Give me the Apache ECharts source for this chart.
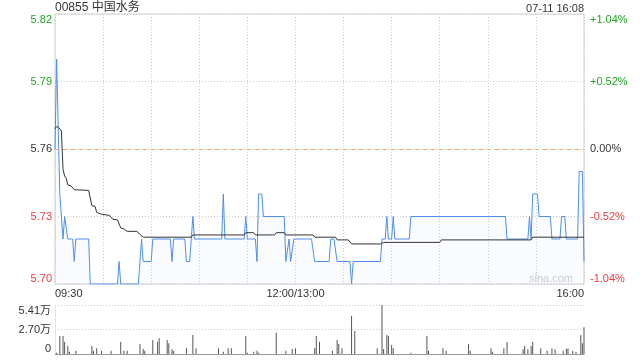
<!DOCTYPE html>
<html><head><meta charset="utf-8">
<script src="https://cdn.jsdelivr.net/npm/echarts@6/dist/echarts.min.js"></script>
<style>html,body{margin:0;padding:0;background:#fff}#c{width:640px;height:360px}</style>
</head><body><div id="c"></div>
<script>
const stockTitle = '00855 中国水务';
const stampText = '07-11 16:08';
const watermark = 'sina.com';
const prevClose = 5.76;
const priceMin = 5.70, priceMax = 5.82, priceStep = 0.03;
const timeLabelMinutes = [0, 150, 330];
const timeLabels = ['09:30', '12:00/13:00', '16:00'];

// price (minute index from 09:30, lunch removed)
const priceMinutes = [0,1,2,3,4,5,6,7,8, 11,12,13, 21,22, 39,40,41, 52,54,55, 60,61, 72,73,74, 81,82,84, 86,87,
  104,105,106, 118,119,120, 125,126,127, 129,130, 143,144, 146,147,149, 160,162, 171,172,174,176, 184,185,186,
  203,204,206,207,208, 210,211,212, 221,222, 281,282, 295,296,297,298, 301,302, 309,310, 315,316,318,319, 326,327,329,330];
const priceValues = [5.76,5.80,5.80,5.74,5.74,5.72,5.73,5.73,5.72, 5.72,5.71,5.72, 5.72,5.70, 5.70,5.71,5.70, 5.70,5.72,5.71, 5.71,5.72, 5.72,5.71,5.72, 5.72,5.71,5.71, 5.73,5.72,
  5.72,5.74,5.72, 5.72,5.73,5.72, 5.72,5.71,5.74, 5.74,5.73, 5.73,5.71, 5.72,5.71,5.72, 5.72,5.71, 5.71,5.72,5.72,5.71, 5.71,5.70,5.71,
  5.71,5.72,5.72,5.73,5.72, 5.72,5.73,5.72, 5.72,5.73, 5.73,5.72, 5.72,5.73,5.72,5.74, 5.74,5.73, 5.73,5.72, 5.72,5.73,5.73,5.72, 5.72,5.75,5.75,5.71];

const avgMinutes = [0,1,2,3,4,5,6,7,8, 10,12, 21,23,25,26,29, 34,36,39,41,43,45, 51,55, 85,86, 118,119,124,125,
  137,138,143,144, 161,162,175,176, 183,185, 203,205, 240,241, 297,298,330];
const avgValues = [5.769,5.77,5.77,5.769,5.768,5.751,5.748,5.747,5.744, 5.7436,5.7419, 5.7416,5.7348,5.7345,5.7318,5.731,
  5.7305,5.7288,5.7285,5.7249,5.7245,5.7234, 5.7234,5.7208, 5.7208,5.7218, 5.7218,5.7228,5.7228,5.7218,
  5.7218,5.7228,5.7228,5.7218, 5.7218,5.7208,5.7208,5.7196, 5.7196,5.7178, 5.7178,5.7185, 5.7185,5.7196, 5.7196,5.7208,5.7208];

const volMinutes = [1,3,5,6,8,9,13,23,24,26,29,35,41,43,45,53,55,56,61,64,65,70,71,73,74,82,86,88,102,105,108,110,
  119,120,124,126,127,138,144,148,150,162,163,165,173,176,177,179,185,187,201,204,205,207,208,210,211,222,232,233,
  242,244,258,259,272,273,280,282,292,293,295,297,298,303,307,310,312,317,319,320,323,325,328,329,330];
const volValues = [1400,19900,19900,13600,8800,2500,3600,8800,3600,6300,3600,3600,13600,3600,3600,11000,5500,3600,15500,13600,17300,15500,11800,5200,3300,6300,21000,6300,6300,2500,6300,6300,
  19900,1400,2500,3600,1400,23500,3600,5500,6300,6300,19900,13600,3600,15500,11000,6300,42000,25400,6300,54100,5500,21000,19900,9900,6300,1400,19900,3600,
  6300,3600,11000,3600,6300,2500,6300,13200,5200,8800,5200,8800,13600,6300,3600,6300,5200,3600,5500,6300,3600,2500,21000,11800,29500];
const volMax = 54100;
const volTickLabels = ['0', '2.70万', '5.41万'];

const FONT = '"Liberation Sans", Arial, "Noto Sans CJK SC", sans-serif';
const GREEN = '#22a722', RED = '#f03a3a', DARK = '#333';
const GRID_C = '#cfcfcf';

function colorKey(v){ return v > prevClose + 1e-6 ? 'up' : (v < prevClose - 1e-6 ? 'dn' : 'eq'); }
const rich = {
  up: {color: GREEN, fontSize: 11, fontFamily: FONT},
  dn: {color: RED, fontSize: 11, fontFamily: FONT},
  eq: {color: DARK, fontSize: 11, fontFamily: FONT}
};

const chart = echarts.init(document.getElementById('c'), null, {renderer: 'canvas'});
chart.setOption({
  animation: false,
  backgroundColor: '#fff',
  textStyle: {fontFamily: FONT},
  graphic: [
    {type: 'text', left: 55, top: 2, style: {text: stockTitle, font: '12px ' + FONT, fill: '#333'}},
    {type: 'text', right: 56, top: 3, style: {text: stampText, font: '11px ' + FONT, fill: '#333'}},
    {type: 'text', right: 67, top: 273, style: {text: watermark, font: '11px ' + FONT, fill: '#cfcfcf'}}
  ],
  grid: [
    {left: 55, right: 56, top: 14, height: 270, show: true, borderColor: GRID_C, borderWidth: 1, outerBoundsMode: 'none'},
    {left: 55, right: 56, top: 305, height: 49, show: false, outerBoundsMode: 'none'}
  ],
  xAxis: [
    {type: 'value', gridIndex: 0, min: 0, max: 330, interval: 30,
     axisLine: {show: false}, axisTick: {show: false},
     splitLine: {show: true, lineStyle: {color: GRID_C, type: [1, 2]}},
     axisLabel: {show: true, margin: 4, fontSize: 11, color: DARK, fontFamily: FONT,
       alignMinLabel: 'left', alignMaxLabel: 'right', showMinLabel: true, showMaxLabel: true,
       formatter: v => { const i = timeLabelMinutes.indexOf(Math.round(v)); return i >= 0 ? timeLabels[i] : ''; }}},
    {type: 'value', gridIndex: 1, min: 0, max: 330,
     axisLine: {show: true, lineStyle: {color: '#999'}}, axisTick: {show: false},
     splitLine: {show: false}, axisLabel: {show: false}}
  ],
  yAxis: [
    {type: 'value', gridIndex: 0, min: priceMin, max: priceMax, interval: priceStep, position: 'left',
     axisLine: {show: false}, axisTick: {show: false},
     splitLine: {show: true, lineStyle: {color: GRID_C, type: [1, 2]}},
     axisLabel: {margin: 3, fontSize: 11, fontFamily: FONT, rich: rich,
       verticalAlignMinLabel: 'bottom', verticalAlignMaxLabel: 'top',
       formatter: v => '{' + colorKey(v) + '|' + v.toFixed(2) + '}'}},
    {type: 'value', gridIndex: 0, min: priceMin, max: priceMax, interval: priceStep, position: 'right',
     axisLine: {show: false}, axisTick: {show: false}, splitLine: {show: false},
     axisLabel: {margin: 6, fontSize: 11, fontFamily: FONT, rich: rich,
       verticalAlignMinLabel: 'bottom', verticalAlignMaxLabel: 'top',
       formatter: v => { const p = (v - prevClose) / prevClose * 100; const k = colorKey(v);
         const s = (Math.abs(p) < 1e-6 ? '0.00' : (p > 0 ? '+' : '') + p.toFixed(2)) + '%';
         return '{' + k + '|' + s + '}'; }}},
    {type: 'value', gridIndex: 1, min: 0, max: volMax, interval: volMax / 2,
     axisLine: {show: true, lineStyle: {color: '#e4e4e4'}}, axisTick: {show: false},
     splitLine: {show: true, lineStyle: {color: GRID_C, type: [1, 2]}},
     axisLabel: {margin: 4, fontSize: 11, color: DARK, fontFamily: FONT,
       verticalAlignMinLabel: 'bottom', verticalAlignMaxLabel: 'top',
       formatter: v => volTickLabels[Math.round(v / (volMax / 2))]}}
  ],
  series: [
    {type: 'line', xAxisIndex: 0, yAxisIndex: 0, symbol: 'none', silent: true,
     data: priceMinutes.map((t, i) => [t, priceValues[i]]),
     lineStyle: {color: '#4d8ef0', width: 1},
     areaStyle: {color: 'rgba(77,142,240,0.05)'},
     markLine: {symbol: 'none', silent: true, label: {show: false},
       lineStyle: {color: '#f2a56a', type: [4, 4], width: 1},
       data: [{yAxis: prevClose}]}},
    {type: 'line', xAxisIndex: 0, yAxisIndex: 0, symbol: 'none', silent: true,
     data: avgMinutes.map((t, i) => [t, avgValues[i]]),
     lineStyle: {color: '#333', width: 1}},
    {type: 'bar', xAxisIndex: 1, yAxisIndex: 2, barWidth: 1, silent: true,
     itemStyle: {color: '#555'},
     data: volMinutes.map((t, i) => [t, volValues[i]])}
  ]
});
</script>
</body></html>
